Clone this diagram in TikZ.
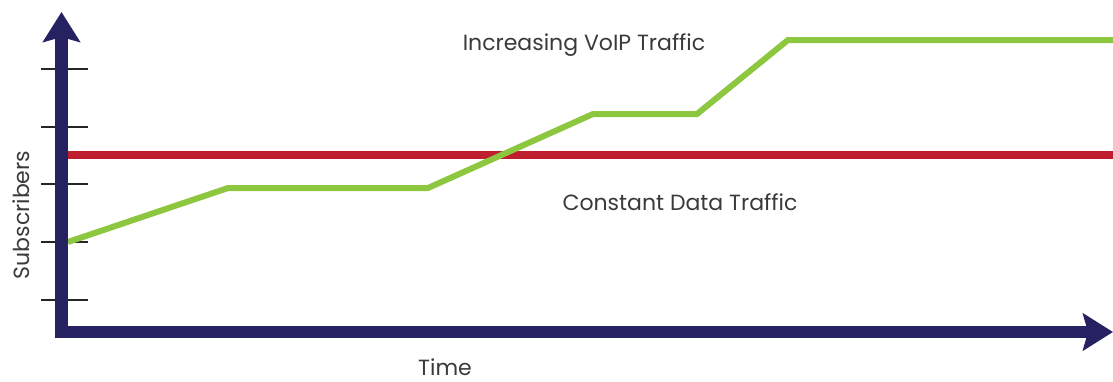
\documentclass[tikz,border=0pt]{standalone}
\usepackage{fontspec}
\setmainfont{Poppins}
\usetikzlibrary{arrows.meta}
\definecolor{axisblue}{HTML}{262262}
\definecolor{datared}{HTML}{BE1E2D}
\definecolor{voipgreen}{HTML}{8DC63F}
\definecolor{txtgray}{HTML}{3A3A3A}
\tikzset{
  axis/.style={draw=axisblue, line width=12.5pt, -{Stealth[length=30pt, width=37pt, inset=5pt]}},
  tick/.style={draw=black!85, line width=2pt},
  lbl/.style={text=txtgray, font=\fontsize{22}{26}\selectfont, inner sep=0pt},
}
\begin{document}
\begin{tikzpicture}[x=1pt, y=-1pt]
\useasboundingbox (0,0) rectangle (1113,381);
% ticks
\foreach \ty [count=\i] in {69,127,184,242,300} {
  \coordinate (tl\i) at (41,\ty);
  \coordinate (tr\i) at (88,\ty);
  \draw[tick] (tl\i) -- (tr\i);
}
% red line
\coordinate (r0) at (68,155);
\coordinate (r1) at (1113,155);
\draw[datared, line width=8pt] (r0) -- (r1);
% green line
\coordinate (g0) at (68,242);
\coordinate (g1) at (228,188);
\coordinate (g2) at (428,188);
\coordinate (g3) at (593,114);
\coordinate (g4) at (697,114);
\coordinate (g5) at (788,40);
\coordinate (g6) at (1113,40);
\draw[voipgreen, line width=6pt, line join=miter] (g0) -- (g1) -- (g2) -- (g3) -- (g4) -- (g5) -- (g6);
% axes
\coordinate (orig) at (61.5,338);
\coordinate (ytop) at (61.5,12);
\coordinate (xorig) at (55,332);
\coordinate (xend) at (1113,332);
\draw[axis] (orig) -- (ytop);
\draw[axis] (xorig) -- (xend);
% labels
\node[lbl] (voip) at (584,45) {Increasing VoIP Traffic};
\node[lbl] (data) at (680,202) {Constant Data Traffic};
\node[lbl, rotate=90] (subs) at (21,215) {Subscribers};
\node[lbl] (time) at (445,367) {Time};
\end{tikzpicture}
\end{document}
